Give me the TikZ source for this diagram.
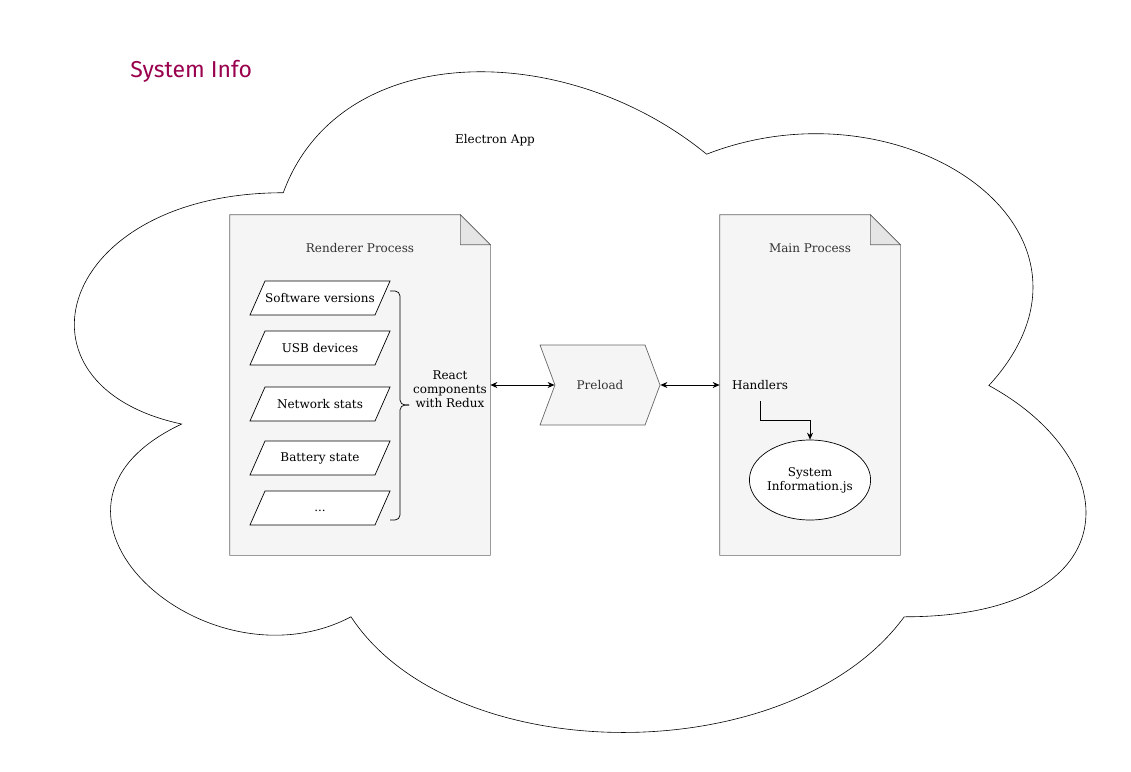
\documentclass[tikz,border=0pt]{standalone}
\usepackage{fontspec}
\setmainfont{DejaVu Serif}
\newfontfamily\titlefont{Fira Sans}
\usetikzlibrary{positioning,calc,shapes.geometric,shapes.symbols,arrows.meta}
\definecolor{notefill}{HTML}{F5F5F5}
\definecolor{notedraw}{HTML}{666666}
\definecolor{notetext}{HTML}{333333}
\definecolor{titlered}{HTML}{99004D}
\tikzset{
  txt/.style={font=\fontsize{12}{14}\selectfont, align=center},
  proc/.style={minimum width=#1, minimum height=340pt, inner sep=0pt},
  preload/.style={txt, draw=notedraw, fill=notefill, text=notetext, signal,
      signal from=west, signal to=east, signal pointer angle=139,
      minimum width=120pt, minimum height=80pt, inner sep=0pt},
  arr/.style={-{Stealth[length=7pt,width=6pt]}},
  biarr/.style={{Stealth[length=7pt,width=6pt]}-{Stealth[length=7pt,width=6pt]}}
}
\newcommand\parabox[1]{%
  \filldraw[fill=white] (250,#1+17) -- (265,#1-17) -- (390,#1-17) -- (375,#1+17) -- cycle;}
\begin{document}
\begin{tikzpicture}[x=1pt, y=-1pt, line width=0.7pt]
  \useasboundingbox (0,0) rectangle (1131,771);
  % cloud
  \draw[line width=0.6pt] (283.25,192.75)
    .. controls (57.45,192.75) and (1,385.5) .. (181.64,424.05)
    .. controls (1,508.86) and (204.22,693.9) .. (350.99,616.8)
    .. controls (452.6,771) and (791.3,771) .. (904.2,616.8)
    .. controls (1130,616.8) and (1130,462.6) .. (988.9,385.5)
    .. controls (1130,231.3) and (904.2,77.1) .. (706.6,154.2)
    .. controls (565.5,38.55) and (339.7,38.55) .. cycle;
  \node[anchor=base west, text=titlered, font=\titlefont\fontsize{23}{26}\selectfont,
    inner sep=0pt] (title) at (130,77) {System Info};
  \node[txt] (app) at (495,140) {Electron App};
  % processes
  \node[proc=260pt] (rend) at (360,385) {};
  \node[proc=180pt] (mainp) at (810,385) {};
  \foreach \n in {rend,mainp} {
    \filldraw[fill=notefill, draw=notedraw] (\n.south west) |- ($(\n.north east)+(-30,0)$)
      -- ($(\n.north east)+(0,30)$) |- cycle;
    \filldraw[fill=black!10, draw=notedraw] ($(\n.north east)+(-30,0)$)
      -- ++(0,30) -- ++(30,0) -- cycle;
  }
  \node[txt, text=notetext] (rendtitle) at (360,248) {Renderer Process};
  \node[txt, text=notetext] (maintitle) at (810,248) {Main Process};
  % renderer components
  \foreach \n/\y/\t in {sw/298/Software versions, usb/348/USB devices,
      net/404/Network stats, bat/458/Battery state} {
    \parabox{\y}
    \node[txt] (\n) at (320,\y) {\t};
  }
  \parabox{508}
  \node[txt] (more) at (320,508) {\vphantom{Ag}...};
  \draw[rounded corners=5pt] (390,291) -- (400,291) -- (400,405) -- (409,405);
  \draw[rounded corners=5pt] (409,405) -- (400,405) -- (400,520) -- (390,520);
  \node[txt] (react) at (450,389) {React\\components\\with Redux};
  % preload and main
  \node[preload] (pre) at (600,385) {Preload};
  \node[txt, minimum height=32pt] (hand) at (760,385) {Handlers};
  \node[txt, draw, ellipse, fill=white, minimum width=120pt, minimum height=80pt,
    inner sep=0pt] (sysinfo) at (810,480) {System\\Information.js};
  \draw[biarr] (rend.east) -- (pre.west);
  \draw[biarr] (pre.east) -- (mainp.west);
  \draw[arr] (hand.south) -- ++(0,19) -| (sysinfo.north);
\end{tikzpicture}
\end{document}
